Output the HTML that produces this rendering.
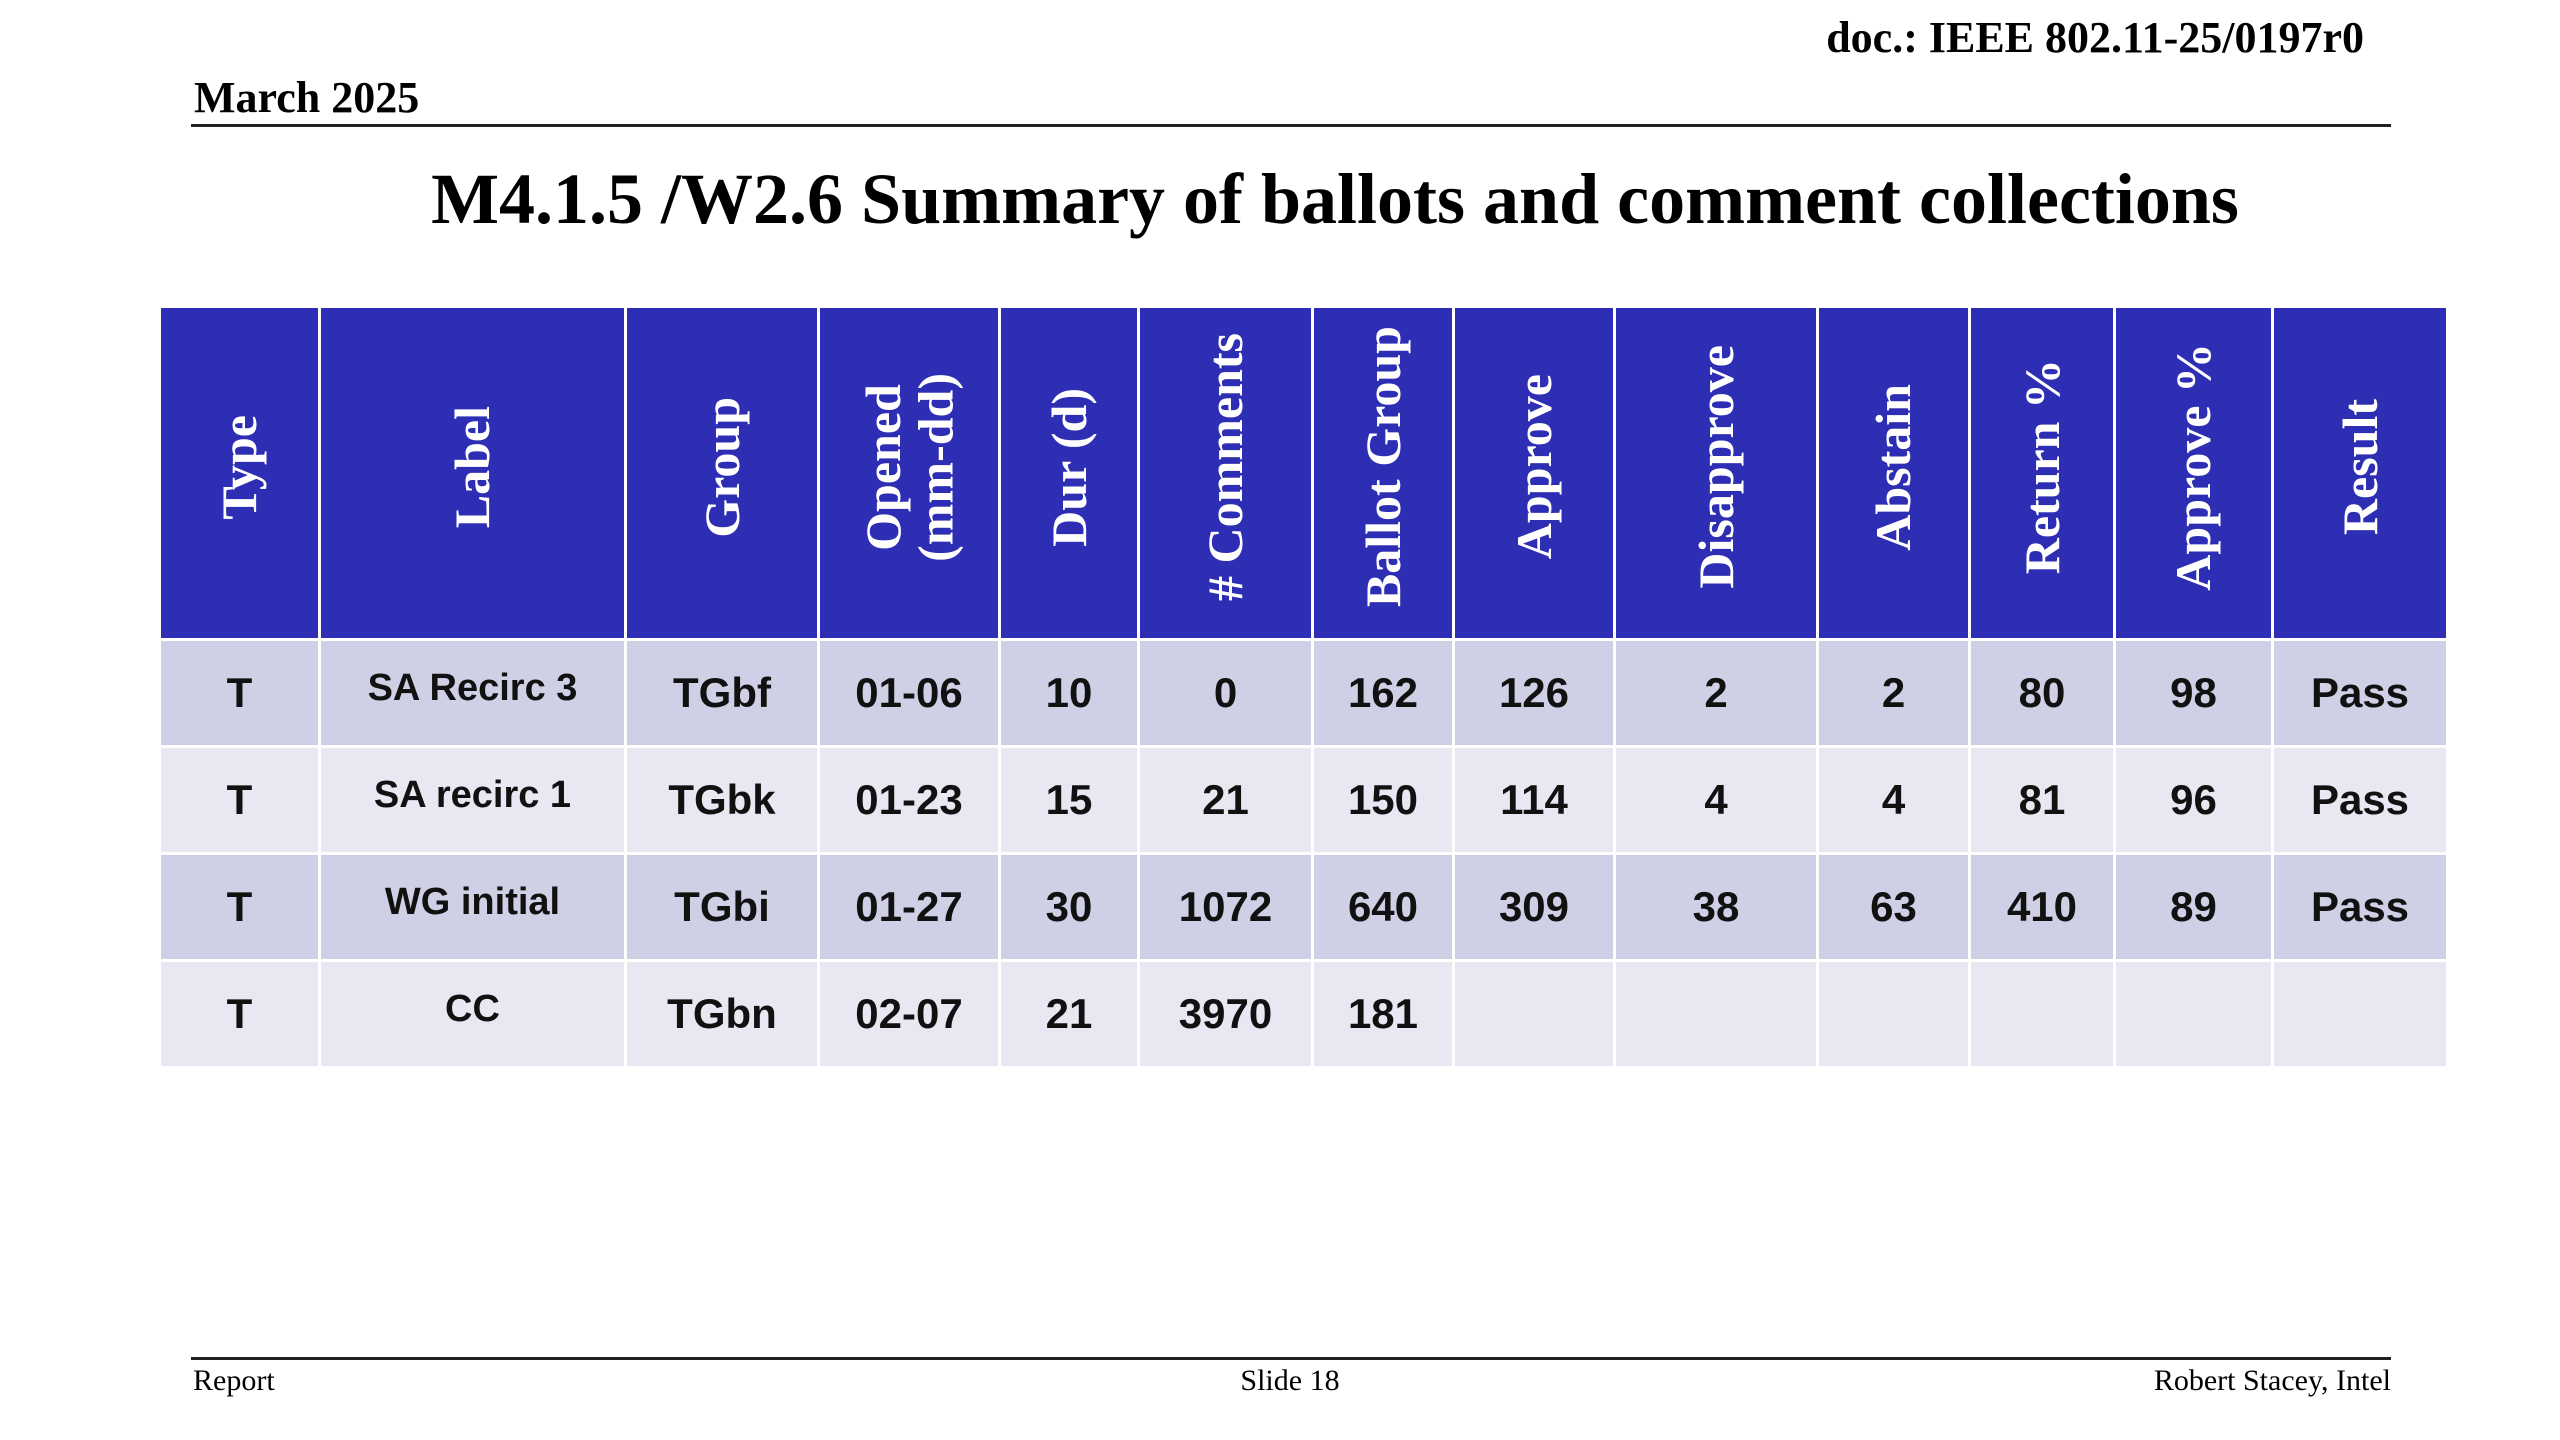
<!DOCTYPE html>
<html><head><meta charset="utf-8">
<style>
body{margin:0;width:2560px;height:1440px;background:#fff;position:relative;overflow:hidden;font-family:"Liberation Serif",serif;}
.abs{position:absolute;}
table{position:absolute;left:158px;top:305px;border-collapse:collapse;table-layout:fixed;width:2288px;}
td,th{border:3px solid #fff;text-align:center;vertical-align:middle;padding:0;}
th{background:#2E2EB5;height:330px;color:#fff;font-family:"Liberation Serif",serif;font-weight:bold;font-size:50px;}
th div{writing-mode:vertical-rl;transform:rotate(180deg);display:inline-block;line-height:1.05;}
td{height:94px;font-family:"Liberation Sans",sans-serif;font-weight:bold;font-size:42px;color:#111;}
tr.o td{background:#CFD0E6;} tr.e td{background:#E8E8F3;}
td.lab{font-size:38px;padding-bottom:10px;}
</style></head><body>
<div class="abs" style="right:196px;top:12px;font-size:44px;font-weight:bold;">doc.: IEEE 802.11-25/0197r0</div>
<div class="abs" style="left:194px;top:72px;font-size:44px;font-weight:bold;">March 2025</div>
<div class="abs" style="left:191px;top:124px;width:2200px;height:3px;background:#222;"></div>
<div class="abs" style="left:0;width:2670px;top:158px;text-align:center;font-size:72px;font-weight:bold;">M4.1.5 /W2.6 Summary of ballots and comment collections</div>
<table>
<colgroup><col style="width:160px"><col style="width:306px"><col style="width:193px"><col style="width:181px"><col style="width:139px"><col style="width:174px"><col style="width:141px"><col style="width:161px"><col style="width:203px"><col style="width:152px"><col style="width:145px"><col style="width:158px"><col style="width:175px"></colgroup>
<tr>
<th><div>Type</div></th>
<th><div>Label</div></th>
<th><div>Group</div></th>
<th><div>Opened<br>(mm-dd)</div></th>
<th><div>Dur (d)</div></th>
<th><div># Comments</div></th>
<th><div>Ballot Group</div></th>
<th><div>Approve</div></th>
<th><div>Disapprove</div></th>
<th><div>Abstain</div></th>
<th><div>Return %</div></th>
<th><div>Approve %</div></th>
<th><div>Result</div></th>
</tr>
<tr class="o"><td>T</td><td class="lab">SA Recirc 3</td><td>TGbf</td><td>01-06</td><td>10</td><td>0</td><td>162</td><td>126</td><td>2</td><td>2</td><td>80</td><td>98</td><td>Pass</td></tr>
<tr class="e"><td>T</td><td class="lab">SA recirc 1</td><td>TGbk</td><td>01-23</td><td>15</td><td>21</td><td>150</td><td>114</td><td>4</td><td>4</td><td>81</td><td>96</td><td>Pass</td></tr>
<tr class="o"><td>T</td><td class="lab">WG initial</td><td>TGbi</td><td>01-27</td><td>30</td><td>1072</td><td>640</td><td>309</td><td>38</td><td>63</td><td>410</td><td>89</td><td>Pass</td></tr>
<tr class="e"><td>T</td><td class="lab">CC</td><td>TGbn</td><td>02-07</td><td>21</td><td>3970</td><td>181</td><td></td><td></td><td></td><td></td><td></td><td></td></tr>
</table>
<div class="abs" style="left:191px;top:1357px;width:2200px;height:3px;background:#222;"></div>
<div class="abs" style="left:193px;top:1364px;font-size:30px;">Report</div>
<div class="abs" style="left:1190px;width:200px;text-align:center;top:1364px;font-size:30px;">Slide 18</div>
<div class="abs" style="right:169px;top:1364px;font-size:30px;">Robert Stacey, Intel</div>
</body></html>
